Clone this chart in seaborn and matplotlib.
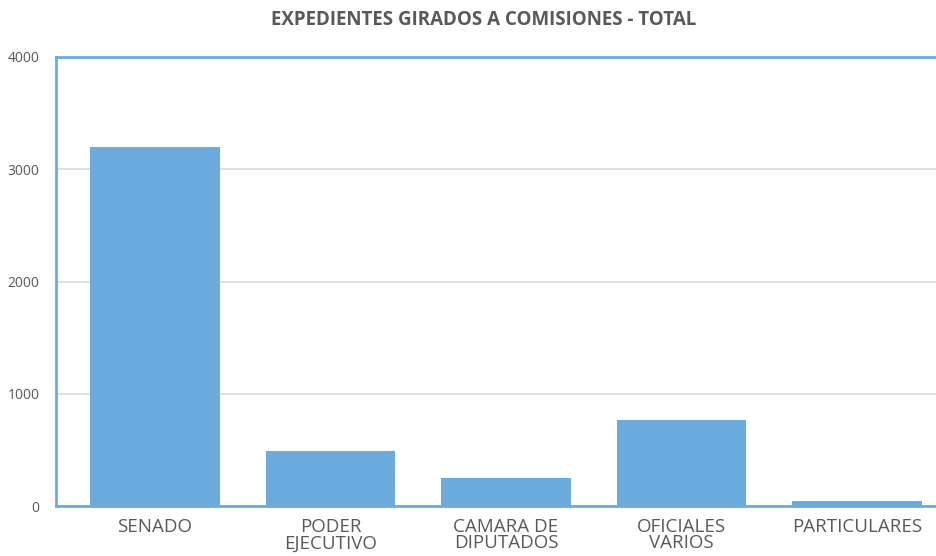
import pandas as pd
import matplotlib.pyplot as plt
import seaborn as sns

# data
categorias = ["SENADO", "PODER\nEJECUTIVO", "CAMARA DE\nDIPUTADOS", "OFICIALES\nVARIOS", "PARTICULARES"]
expedientes = [3200, 490, 250, 765, 45]
y_ticks = [0, 1000, 2000, 3000, 4000]

df = pd.DataFrame({"categoria": categorias, "expedientes": expedientes})

sns.set_style("white")
plt.rcParams['font.family'] = ['Open Sans', 'DejaVu Sans']

azul = "#6CABDD"
gris = "#595959"

fig = plt.figure(figsize=(9.36, 5.56), dpi=100)
ax = fig.add_axes([56 / 936, 50 / 556, 880 / 936, 449 / 556])

sns.barplot(data=df, x="categoria", y="expedientes", color=azul, width=0.74,
            saturation=1, linewidth=0, ax=ax, zorder=3)

ax.set_ylim(0, 4000)
ax.set_yticks(y_ticks)
# the right end of the plot is cut off in the reference
ax.set_xlim(-0.564, 4.45)
ax.yaxis.grid(True, color="#D9D9D9", linewidth=1.2, zorder=0)
ax.set_xlabel("")
ax.set_ylabel("")

for lado in ["left", "top", "bottom"]:
    ax.spines[lado].set_color(azul)
    ax.spines[lado].set_linewidth(2)
ax.spines["right"].set_visible(False)

ax.tick_params(axis="y", length=0, labelsize=10, labelcolor=gris, pad=12)
ax.tick_params(axis="x", length=0, labelsize=13.5, labelcolor=gris, pad=9)
for lbl in ax.get_xticklabels():
    lbl.set_linespacing(0.85)

fig.text(483.5 / 936, 1 - 20 / 556, "EXPEDIENTES GIRADOS A COMISIONES - TOTAL",
         ha="center", va="center", fontsize=13.5, fontweight="bold", color=gris)

plt.savefig("out.png", dpi=100)
